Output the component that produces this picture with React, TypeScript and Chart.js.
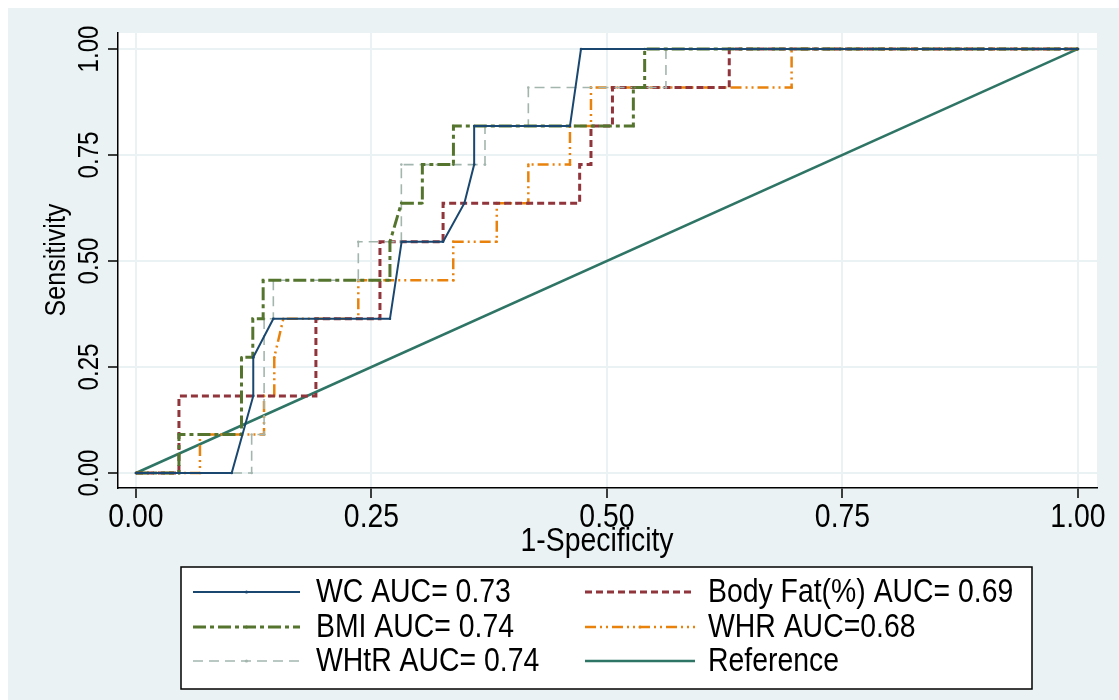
import React, { useEffect, useRef } from 'react';
import { Chart, registerables } from 'chart.js';

Chart.register(...registerables);

// ---- data ----
const tickValues = [0, 0.25, 0.5, 0.75, 1];
const tickLabels = ['0.00', '0.25', '0.50', '0.75', '1.00'];

const wcFpr = [0, 0.1016, 0.1245, 0.1245, 0.1458, 0.2696, 0.282, 0.326, 0.3486, 0.359, 0.359, 0.4607, 0.4724, 1];
const wcTpr = [0, 0, 0.1818, 0.2727, 0.3636, 0.3636, 0.5455, 0.5455, 0.6364, 0.7273, 0.8182, 0.8182, 1, 1];

const bmiFpr = [0, 0.0456, 0.0456, 0.112, 0.112, 0.124, 0.124, 0.135, 0.135, 0.2696, 0.2696, 0.2817, 0.304, 0.304, 0.337, 0.337, 0.528, 0.528, 0.54, 0.54, 1];
const bmiTpr = [0, 0, 0.0909, 0.0909, 0.2727, 0.2727, 0.3636, 0.3636, 0.4545, 0.4545, 0.5455, 0.6364, 0.6364, 0.7273, 0.7273, 0.8182, 0.8182, 0.9091, 0.9091, 1, 1];

const whtrFpr = [0, 0.1228, 0.1228, 0.136, 0.136, 0.1458, 0.1458, 0.236, 0.236, 0.2817, 0.2817, 0.3705, 0.3705, 0.4165, 0.4165, 0.5626, 0.5626, 1];
const whtrTpr = [0, 0, 0.0909, 0.0909, 0.3636, 0.3636, 0.4545, 0.4545, 0.5455, 0.5455, 0.7273, 0.7273, 0.8182, 0.8182, 0.9091, 0.9091, 1, 1];

const fatFpr = [0, 0.0456, 0.0456, 0.191, 0.191, 0.259, 0.259, 0.326, 0.326, 0.471, 0.471, 0.483, 0.483, 0.5058, 0.5058, 0.6298, 0.6298, 1];
const fatTpr = [0, 0, 0.1818, 0.1818, 0.3636, 0.3636, 0.5455, 0.5455, 0.6364, 0.6364, 0.7273, 0.7273, 0.8182, 0.8182, 0.9091, 0.9091, 1, 1];

const whrFpr = [0, 0.0679, 0.0679, 0.1359, 0.1359, 0.1468, 0.1468, 0.1564, 0.236, 0.236, 0.3368, 0.3368, 0.383, 0.383, 0.4165, 0.4165, 0.4607, 0.4607, 0.483, 0.483, 0.696, 0.696, 1];
const whrTpr = [0, 0, 0.0909, 0.0909, 0.1818, 0.1818, 0.2727, 0.3636, 0.3636, 0.4545, 0.4545, 0.5455, 0.5455, 0.6364, 0.6364, 0.7273, 0.7273, 0.8182, 0.8182, 0.9091, 0.9091, 1, 1];

const refFpr = [0, 1];
const refTpr = [0, 1];

const seriesLabels = ['WC AUC= 0.73', 'BMI AUC= 0.74', 'WHtR AUC= 0.74', 'Body Fat(%) AUC= 0.69', 'WHR AUC=0.68', 'Reference'];

const xTitle = '1-Specificity';
const yTitle = 'Sensitivity';

const FONT = "'Liberation Sans', Arial, sans-serif";
const NARROW = 0.835;

function pts(xs: number[], ys: number[]) {
  return xs.map((x, i) => ({ x, y: ys[i] }));
}

function narrowText(ctx: any, text: string, x: number, y: number, size: number, align: string, rot: number) {
  ctx.save();
  ctx.translate(x, y);
  if (rot) ctx.rotate(rot);
  ctx.scale(NARROW, 1);
  ctx.font = `${size}px ${FONT}`;
  ctx.textAlign = align;
  ctx.textBaseline = 'middle';
  ctx.fillStyle = '#000';
  ctx.fillText(text, 0, 0);
  ctx.restore();
}

const textPlugin = {
  id: 'stataText',
  beforeDraw(chart: any) {
    const { ctx, chartArea } = chart;
    ctx.save();
    ctx.fillStyle = '#ffffff';
    ctx.fillRect(chartArea.left, chartArea.top, chartArea.right - chartArea.left, chartArea.bottom - chartArea.top);
    ctx.restore();
  },
  afterDraw(chart: any) {
    const { ctx } = chart;
    const xs = chart.scales.x;
    const ys = chart.scales.y;
    ctx.save();
    tickValues.forEach((v, i) => {
      narrowText(ctx, tickLabels[i], xs.getPixelForValue(v), 510, 34, 'center', 0);
    });
    narrowText(ctx, xTitle, 589, 534, 34, 'center', 0);
    tickValues.forEach((v, i) => {
      narrowText(ctx, tickLabels[i], 82, ys.getPixelForValue(v), 29, 'center', -Math.PI / 2);
    });
    narrowText(ctx, yTitle, 49, 252, 30, 'center', -Math.PI / 2);

    // legend
    const bx = 173, by = 559, bw = 851, bh = 122;
    ctx.fillStyle = '#ffffff';
    ctx.fillRect(bx, by, bw, bh);
    ctx.strokeStyle = '#000';
    ctx.lineWidth = 1.5;
    ctx.strokeRect(bx, by, bw, bh);
    const order = [0, 3, 1, 4, 2, 5];
    const rowsY = [584, 619, 653];
    order.forEach((di, k) => {
      const ds = chart.data.datasets[di];
      const col = k % 2;
      const row = Math.floor(k / 2);
      const y = rowsY[row];
      const x1 = col === 0 ? 185 : 577;
      const x2 = col === 0 ? 292 : 687;
      const tx = col === 0 ? 308 : 700;
      ctx.save();
      ctx.strokeStyle = ds.borderColor;
      ctx.lineWidth = ds.borderWidth;
      ctx.setLineDash(ds.borderDash || []);
      ctx.beginPath();
      ctx.moveTo(x1, y);
      ctx.lineTo(x2, y);
      ctx.stroke();
      ctx.restore();
      if (ds.pointRadius > 0) {
        ctx.save();
        ctx.fillStyle = ds.borderColor;
        ctx.beginPath();
        ctx.arc((x1 + x2) / 2, y, 1.6, 0, Math.PI * 2);
        ctx.fill();
        ctx.restore();
      }
      narrowText(ctx, ds.label, tx, y + 1, 34, 'left', 0);
    });
    ctx.restore();
  },
};

export default function App() {
  const ref = useRef<HTMLCanvasElement | null>(null);
  useEffect(() => {
    if (!ref.current) return;
    const mk = (label: string, data: any, color: string, width: number, dash: number[], pr: number) => ({
      label,
      data,
      borderColor: color,
      backgroundColor: color,
      borderWidth: width,
      borderDash: dash,
      showLine: true,
      pointRadius: pr,
      pointBorderWidth: 0,
      pointHoverRadius: 0,
      tension: 0,
      fill: false,
    });
    const chart = new Chart(ref.current, {
      type: 'scatter',
      data: {
        datasets: [
          mk(seriesLabels[0], pts(wcFpr, wcTpr), '#1a476f', 2, [], 1.3),
          mk(seriesLabels[1], pts(bmiFpr, bmiTpr), '#55752f', 3, [13, 4, 4, 4], 1.3),
          mk(seriesLabels[2], pts(whtrFpr, whtrTpr), '#a3b6ae', 1.6, [10, 6], 1.3),
          mk(seriesLabels[3], pts(fatFpr, fatTpr), '#90353b', 3, [7, 4], 0),
          mk(seriesLabels[4], pts(whrFpr, whrTpr), '#e8820c', 2.5, [11, 4, 2, 4, 2, 4], 1.3),
          mk(seriesLabels[5], pts(refFpr, refTpr), '#2e7565', 2.5, [], 0),
        ],
      },
      options: {
        animation: false,
        responsive: false,
        devicePixelRatio: 1,
        layout: { padding: { left: 0, right: 22, top: 25, bottom: 0 } },
        plugins: { legend: { display: false }, tooltip: { enabled: false } },
        scales: {
          x: {
            type: 'linear',
            min: -0.0191,
            max: 1.0202,
            afterBuildTicks: (s: any) => { s.ticks = tickValues.map((v) => ({ value: v })); },
            afterFit: (s: any) => { s.height = 212; },
            ticks: { display: false },
            grid: { color: '#eaf2f3', lineWidth: 2, tickColor: '#000', tickLength: 10, tickWidth: 1.5 },
            border: { display: true, color: '#000', width: 1.5 },
          },
          y: {
            type: 'linear',
            min: -0.0354,
            max: 1.0377,
            afterBuildTicks: (s: any) => { s.ticks = tickValues.map((v) => ({ value: v })); },
            afterFit: (s: any) => { s.width = 110; },
            ticks: { display: false },
            grid: { color: '#eaf2f3', lineWidth: 2, tickColor: '#000', tickLength: 10, tickWidth: 1.5 },
            border: { display: true, color: '#000', width: 1.5 },
          },
        },
      },
      plugins: [textPlugin],
    });
    return () => chart.destroy();
  }, []);
  return (
    <div style={{ position: 'absolute', left: 8, top: 8, width: 1111, height: 692, background: '#eaf2f3' }}>
      <canvas ref={ref} width={1111} height={692} style={{ width: 1111, height: 692, display: 'block' }} />
    </div>
  );
}
